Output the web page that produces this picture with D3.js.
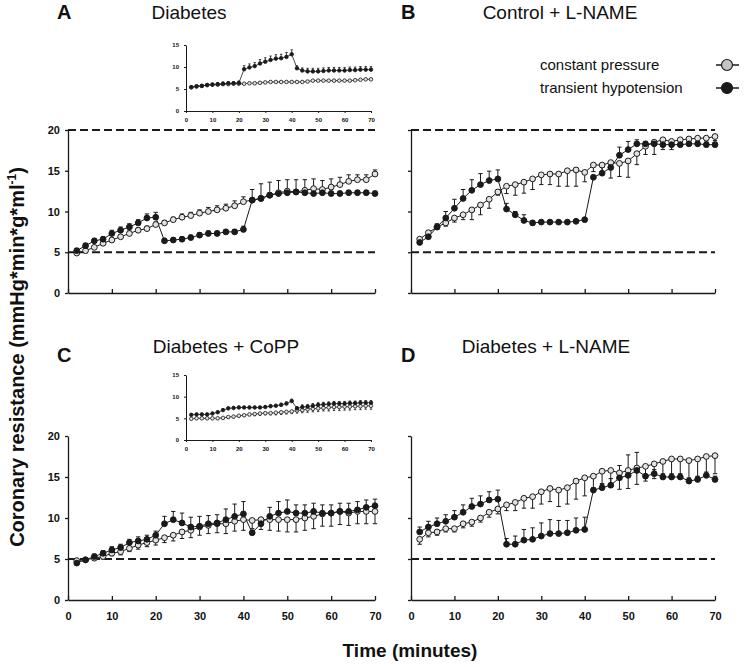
<!DOCTYPE html>
<html><head><meta charset="utf-8">
<script src="https://cdn.jsdelivr.net/npm/d3@7"></script>
<style>body{margin:0;background:#fff}svg{display:block;font-family:"Liberation Sans",Arial,sans-serif}</style>
</head><body><svg id="c" width="750" height="667"></svg>
<script>
const times=[2,4,6,8,10,12,14,16,18,20,22,24,26,28,30,32,34,36,38,40,42,44,46,48,50,52,54,56,58,60,62,64,66,68,70];
const xTicks=[0,10,20,30,40,50,60,70];
const yTicks=[0,5,10,15,20];
const insetYTicks=[0,5,10,15];
const panelTitles=["Diabetes","Control + L-NAME","Diabetes + CoPP","Diabetes + L-NAME"];
const panelLetters=["A","B","C","D"];
const legendLabels=["constant pressure","transient hypotension"];

// Panel A
const aConst=[4.9,5.2,5.6,6.1,6.5,6.9,7.3,7.7,7.9,8.4,8.6,9.0,9.3,9.5,9.8,10.0,10.2,10.4,10.7,11.2,11.4,11.6,12.0,12.3,12.5,12.4,12.6,12.8,12.7,13.0,13.3,13.7,13.9,13.9,14.6];
const aConstErr=[0.2,0.2,0.2,0.2,0.2,0.2,0.3,0.3,0.3,0.3,0.3,0.3,0.4,0.4,0.4,0.5,0.5,0.5,0.6,0.6,1.3,1.8,1.6,1.5,1.4,1.5,1.3,1.2,1.1,1.0,0.9,0.8,0.6,0.6,0.5];
const aHypo=[5.2,5.8,6.4,6.6,7.3,7.7,8.1,8.6,9.2,9.3,6.4,6.5,6.6,6.8,7.1,7.3,7.3,7.5,7.5,7.8,11.4,11.6,12.0,12.2,12.3,12.4,12.3,12.2,12.3,12.2,12.2,12.3,12.3,12.3,12.2];
const aHypoErr=[0.2,0.3,0.3,0.3,0.4,0.4,0.4,0.4,0.5,0.6,0.3,0.3,0.3,0.3,0.3,0.3,0.3,0.3,0.3,0.4,0.3,0.3,0.3,0.3,0.3,0.3,0.3,0.3,0.3,0.3,0.3,0.3,0.3,0.3,0.3];
// Panel B
const bConst=[6.6,7.4,8.1,8.6,9.2,9.6,10.2,10.8,11.5,12.4,13.1,13.3,13.6,14.0,14.5,14.6,14.6,15.0,15.1,14.8,15.7,15.7,16.0,15.9,16.2,17.1,18.0,18.5,18.8,18.6,18.8,18.9,19.0,19.0,19.2];
const bConstErr=[-0.3,-0.3,-0.3,-0.4,-0.5,-0.6,-1.2,-1.2,-1.1,-0.4,-0.9,-1.3,-1.35,-1.3,-1.2,-1.3,-1.5,-1.9,-2.0,-1.15,-0.8,-1.0,-1.9,-1.6,-2.0,-1.35,-1.0,-1.5,-1.2,-1.0,-0.8,-0.5,-0.5,-0.5,-0.5];
const bHypo=[6.2,6.9,8.1,9.2,10.4,11.6,12.6,13.3,13.8,14.0,10.3,9.6,8.9,8.6,8.7,8.7,8.7,8.7,8.8,9.0,14.2,14.7,15.4,16.9,17.6,18.3,18.3,18.3,18.2,18.2,18.2,18.3,18.3,18.2,18.2];
const bHypoErr=[0.3,0.3,0.4,0.8,1.1,1.1,1.3,1.35,1.15,1.1,0.7,0.4,0.7,0.3,0.2,0.2,0.2,0.2,0.2,0.2,0.2,0.7,0.7,1.0,1.0,0.5,0.3,0.3,0.3,0.3,0.3,0.3,0.3,0.3,0.3];
// Panel C
const cConst=[4.8,4.9,5.1,5.3,5.7,5.9,6.3,6.7,7.0,7.3,7.6,7.9,8.3,8.5,8.9,9.1,9.3,9.3,9.6,9.8,9.7,9.8,9.8,9.8,9.8,9.8,10.0,10.2,10.5,10.6,10.8,10.6,10.8,10.8,10.8];
const cConstErr=[-0.2,-0.2,-0.2,-0.3,-0.3,-0.4,-0.4,-0.5,-0.5,-0.6,-0.6,-0.7,-0.8,-0.9,-1.0,-1.0,-1.1,-1.2,-1.2,-1.3,-1.0,-1.2,-1.3,-1.4,-1.5,-1.5,-1.5,-1.5,-1.5,-1.6,-1.6,-1.5,-1.5,-1.5,-1.5];
const cHypo=[4.5,4.9,5.3,5.7,6.1,6.4,7.0,7.2,7.4,7.9,9.3,9.8,9.4,8.9,9.0,9.3,9.4,9.8,10.2,10.5,8.2,9.3,10.2,10.6,10.8,10.6,10.6,10.8,10.6,10.6,10.8,10.8,11.0,11.3,11.5];
const cHypoErr=[0.2,0.2,0.3,0.3,0.4,0.4,0.4,0.5,0.5,0.5,0.9,1.0,1.2,1.2,1.2,1.0,1.0,1.3,1.5,1.5,0.3,0.6,1.1,1.4,1.4,1.0,1.0,1.0,1.0,1.0,1.0,1.0,1.0,0.9,0.8];
// Panel D
const dConst=[7.4,8.2,8.3,8.7,8.7,9.3,9.5,10.0,10.7,11.1,11.6,11.9,12.4,12.6,13.2,13.6,13.4,13.7,14.5,14.9,15.1,15.7,15.8,15.5,15.8,16.1,16.3,16.6,16.9,17.2,17.2,17.0,17.2,17.5,17.6];
const dConstErr=[-0.6,-0.5,-0.4,-0.4,-0.4,-0.5,-0.5,-0.5,-0.6,-0.6,-0.7,-1.0,-1.2,-1.4,-1.5,-1.6,-2.0,-2.0,-2.2,-2.2,-1.5,-1.5,-2.0,-2.0,-2.2,-2.0,-1.8,-1.8,-2.0,-2.0,-2.2,-2.2,-2.2,-2.2,-2.2];
const dHypo=[8.3,8.9,9.3,9.6,10.1,10.7,11.4,11.7,12.2,12.3,6.8,6.8,7.3,7.4,7.8,8.1,8.1,8.2,8.5,8.6,13.4,13.7,14.0,14.9,15.2,15.8,15.1,15.4,15.0,15.0,15.0,14.5,14.7,15.2,14.7];
const dHypoErr=[0.6,0.7,0.7,0.8,0.8,0.9,1.0,1.0,1.0,1.1,0.7,1.0,1.3,1.4,1.6,1.7,1.6,1.5,1.5,1.5,0.3,0.4,0.8,1.5,2.5,2.2,1.0,0.5,0.4,0.4,0.4,0.4,0.4,0.4,0.4];
// Inset A
const aInsetConst=[5.4,5.6,5.7,5.9,6.0,6.0,6.1,6.1,6.2,6.2,6.2,6.3,6.3,6.4,6.5,6.6,6.6,6.6,6.6,6.6,6.6,6.6,6.7,6.9,6.9,6.9,6.9,6.9,6.9,6.9,6.9,7.0,7.1,7.2,7.2];
const aInsetConstErr=[0.2,0.2,0.2,0.2,0.2,0.2,0.2,0.2,0.2,0.2,0.2,0.2,0.2,0.2,0.2,0.2,0.2,0.2,0.2,0.2,0.2,0.2,0.2,0.2,0.2,0.2,0.2,0.2,0.2,0.2,0.2,0.2,0.2,0.2,0.2];
const aInsetHypo=[5.4,5.6,5.7,5.9,6.0,6.1,6.2,6.3,6.3,6.4,9.5,9.9,10.2,10.8,11.2,11.6,11.9,12.0,12.3,12.9,9.7,9.2,9.0,9.0,9.0,9.1,9.2,9.2,9.2,9.2,9.3,9.3,9.4,9.4,9.4];
const aInsetHypoErr=[0.2,0.2,0.2,0.2,0.2,0.3,0.4,0.4,0.4,0.4,0.8,0.8,0.8,0.9,0.9,0.9,0.9,0.9,1.0,1.0,0.6,0.6,0.7,0.7,0.7,0.7,0.7,0.7,0.7,0.7,0.7,0.7,0.7,0.7,0.7];
// Inset C
const cInsetConst=[4.9,5.0,5.0,5.0,5.0,5.0,5.1,5.3,5.4,5.6,5.7,5.9,6.0,6.1,6.2,6.2,6.3,6.4,6.5,6.6,6.8,6.9,7.1,7.2,7.3,7.4,7.5,7.6,7.6,7.7,7.7,7.8,7.8,7.9,7.9];
const cInsetConstErr=[-0.2,-0.2,-0.2,-0.2,-0.2,-0.2,-0.2,-0.3,-0.3,-0.3,-0.3,-0.3,-0.4,-0.4,-0.4,-0.4,-0.5,-0.5,-0.5,-0.5,-0.6,-0.6,-0.7,-0.7,-0.7,-0.7,-0.8,-0.8,-0.8,-0.8,-0.8,-0.8,-0.8,-0.8,-0.8];
const cInsetHypo=[5.8,5.9,5.9,5.9,6.1,6.4,6.9,7.3,7.4,7.5,7.5,7.5,7.5,7.5,7.6,7.8,7.9,8.1,8.4,9.0,7.3,7.6,7.7,7.9,8.1,8.2,8.3,8.4,8.4,8.4,8.5,8.5,8.6,8.6,8.6];
const cInsetHypoErr=[0.3,0.3,0.3,0.3,0.3,0.3,0.3,0.3,0.3,0.3,0.3,0.3,0.3,0.3,0.3,0.3,0.3,0.4,0.4,0.4,0.4,0.5,0.5,0.5,0.5,0.5,0.5,0.5,0.5,0.5,0.5,0.5,0.5,0.5,0.5];

const svg=d3.select("#c");
const INK="#1a1a1a", OPEN="#e2e2e2";

function series(vals,errs){return times.map((t,i)=>({t:t,v:vals[i],e:errs[i]}));}

function drawData(g,x,y,sets,r,sw,cap){
  sets.forEach(s=>{
    g.append("path").datum(s.data).attr("d",d3.line().x(d=>x(d.t)).y(d=>y(d.v)))
      .attr("fill","none").attr("stroke",INK).attr("stroke-width",sw);
    const eb=g.append("g").attr("stroke",INK).attr("stroke-width",sw);
    eb.selectAll("line.v").data(s.data).join("line").attr("class","v")
      .attr("x1",d=>x(d.t)).attr("x2",d=>x(d.t)).attr("y1",d=>y(d.v)).attr("y2",d=>y(d.v+d.e));
    eb.selectAll("line.c").data(s.data).join("line").attr("class","c")
      .attr("x1",d=>x(d.t)-cap).attr("x2",d=>x(d.t)+cap).attr("y1",d=>y(d.v+d.e)).attr("y2",d=>y(d.v+d.e));
  });
  sets.forEach(s=>{
    g.append("g").selectAll("circle").data(s.data).join("circle")
      .attr("cx",d=>x(d.t)).attr("cy",d=>y(d.v)).attr("r",r)
      .attr("fill",s.filled?INK:OPEN).attr("stroke",INK).attr("stroke-width",sw);
  });
}

const panels=[
  {x0:68,x1:375,y0:293,y1:130,yLab:true,xLab:false,top:true,c:aConst,ce:aConstErr,h:aHypo,he:aHypoErr},
  {x0:411,x1:715,y0:293,y1:130,yLab:false,xLab:false,top:true,c:bConst,ce:bConstErr,h:bHypo,he:bHypoErr},
  {x0:68,x1:375,y0:600,y1:436,yLab:true,xLab:true,top:false,c:cConst,ce:cConstErr,h:cHypo,he:cHypoErr},
  {x0:411,x1:715,y0:600,y1:436,yLab:false,xLab:true,top:false,c:dConst,ce:dConstErr,h:dHypo,he:dHypoErr}
];

panels.forEach(p=>{
  const g=svg.append("g");
  const x=d3.scaleLinear().domain([0,70]).range([p.x0,p.x1]);
  const y=d3.scaleLinear().domain([0,20]).range([p.y0,p.y1]);
  const refs=p.top?[5,20]:[5];
  g.selectAll("line.ref").data(refs).join("line").attr("class","ref")
    .attr("x1",x(0)).attr("x2",x(70)).attr("y1",d=>y(d)).attr("y2",d=>y(d))
    .attr("stroke",INK).attr("stroke-width",2).attr("stroke-dasharray","8,4");
  const ya=g.append("g").attr("transform",`translate(${p.x0},0)`)
    .call(d3.axisLeft(y).tickValues(yTicks).tickSizeInner(3).tickSizeOuter(0).tickPadding(5)
      .tickFormat(p.yLab?d3.format("d"):""));
  const xa=g.append("g").attr("transform",`translate(0,${p.y0})`)
    .call(d3.axisBottom(x).tickValues(xTicks).tickSizeInner(-4).tickSizeOuter(0).tickPadding(12)
      .tickFormat(p.xLab?d3.format("d"):""));
  [ya,xa].forEach(a=>{a.selectAll("path,line").attr("stroke",INK).attr("stroke-width",1.3);
    a.selectAll("text").attr("fill","#111").attr("font-size",11).attr("font-weight","bold").attr("font-family","Liberation Sans, Arial, sans-serif");});
  drawData(g,x,y,[{data:series(p.c,p.ce),filled:false},{data:series(p.h,p.he),filled:true}],2.9,1,2.2);
});

const insets=[
  {x0:186,x1:371,y0:111,y1:45,c:aInsetConst,ce:aInsetConstErr,h:aInsetHypo,he:aInsetHypoErr},
  {x0:186,x1:371,y0:440,y1:375,c:cInsetConst,ce:cInsetConstErr,h:cInsetHypo,he:cInsetHypoErr}
];
insets.forEach(p=>{
  const g=svg.append("g");
  const x=d3.scaleLinear().domain([0,70]).range([p.x0,p.x1]);
  const y=d3.scaleLinear().domain([0,15]).range([p.y0,p.y1]);
  const ya=g.append("g").attr("transform",`translate(${p.x0},0)`)
    .call(d3.axisLeft(y).tickValues(insetYTicks).tickSizeInner(2).tickSizeOuter(0).tickPadding(5));
  const xa=g.append("g").attr("transform",`translate(0,${p.y0})`)
    .call(d3.axisBottom(x).tickValues(xTicks).tickSizeInner(2).tickSizeOuter(0).tickPadding(5));
  [ya,xa].forEach(a=>{a.selectAll("path,line").attr("stroke",INK).attr("stroke-width",1);
    a.selectAll("text").attr("fill","#111").attr("font-size",6).attr("font-weight","bold").attr("font-family","Liberation Sans, Arial, sans-serif");});
  drawData(g,x,y,[{data:series(p.c,p.ce),filled:false},{data:series(p.h,p.he),filled:true}],1.8,0.8,1.2);
});

const titlePos=[{lx:57,ly:19,tx:189,ty:19},{lx:401,ly:19,tx:560,ty:19},{lx:57,ly:362,tx:226,ty:353},{lx:401,ly:362,tx:546,ty:353}];
titlePos.forEach((tp,i)=>{
  svg.append("text").attr("x",tp.lx).attr("y",tp.ly).attr("font-size",20).attr("font-weight","bold").attr("fill","#111").text(panelLetters[i]);
  svg.append("text").attr("x",tp.tx).attr("y",tp.ty).attr("text-anchor","middle").attr("font-size",19).attr("fill","#111").text(panelTitles[i]);
});

legendLabels.forEach((lab,i)=>{
  const yy=65+i*23;
  svg.append("text").attr("x",540).attr("y",yy+5).attr("font-size",15).attr("fill","#111").text(lab);
  svg.append("line").attr("x1",716).attr("x2",739).attr("y1",yy).attr("y2",yy).attr("stroke",INK).attr("stroke-width",1.5);
  svg.append("circle").attr("cx",727).attr("cy",yy).attr("r",5.5).attr("fill",i===0?"#c4c4c4":INK).attr("stroke",INK).attr("stroke-width",1.2);
});

const yt=svg.append("text").attr("transform","translate(24,357) rotate(-90)").attr("text-anchor","middle")
  .attr("font-size",20).attr("font-weight","bold").attr("fill","#111");
yt.append("tspan").text("Coronary resistance (mmHg*min*g*ml");
yt.append("tspan").attr("font-size",12).attr("dy",-8).text("-1");
yt.append("tspan").attr("dy",8).text(")");
svg.append("text").attr("x",410).attr("y",657).attr("text-anchor","middle").attr("font-size",19).attr("font-weight","bold").attr("fill","#111").text("Time (minutes)");
</script></body></html>
